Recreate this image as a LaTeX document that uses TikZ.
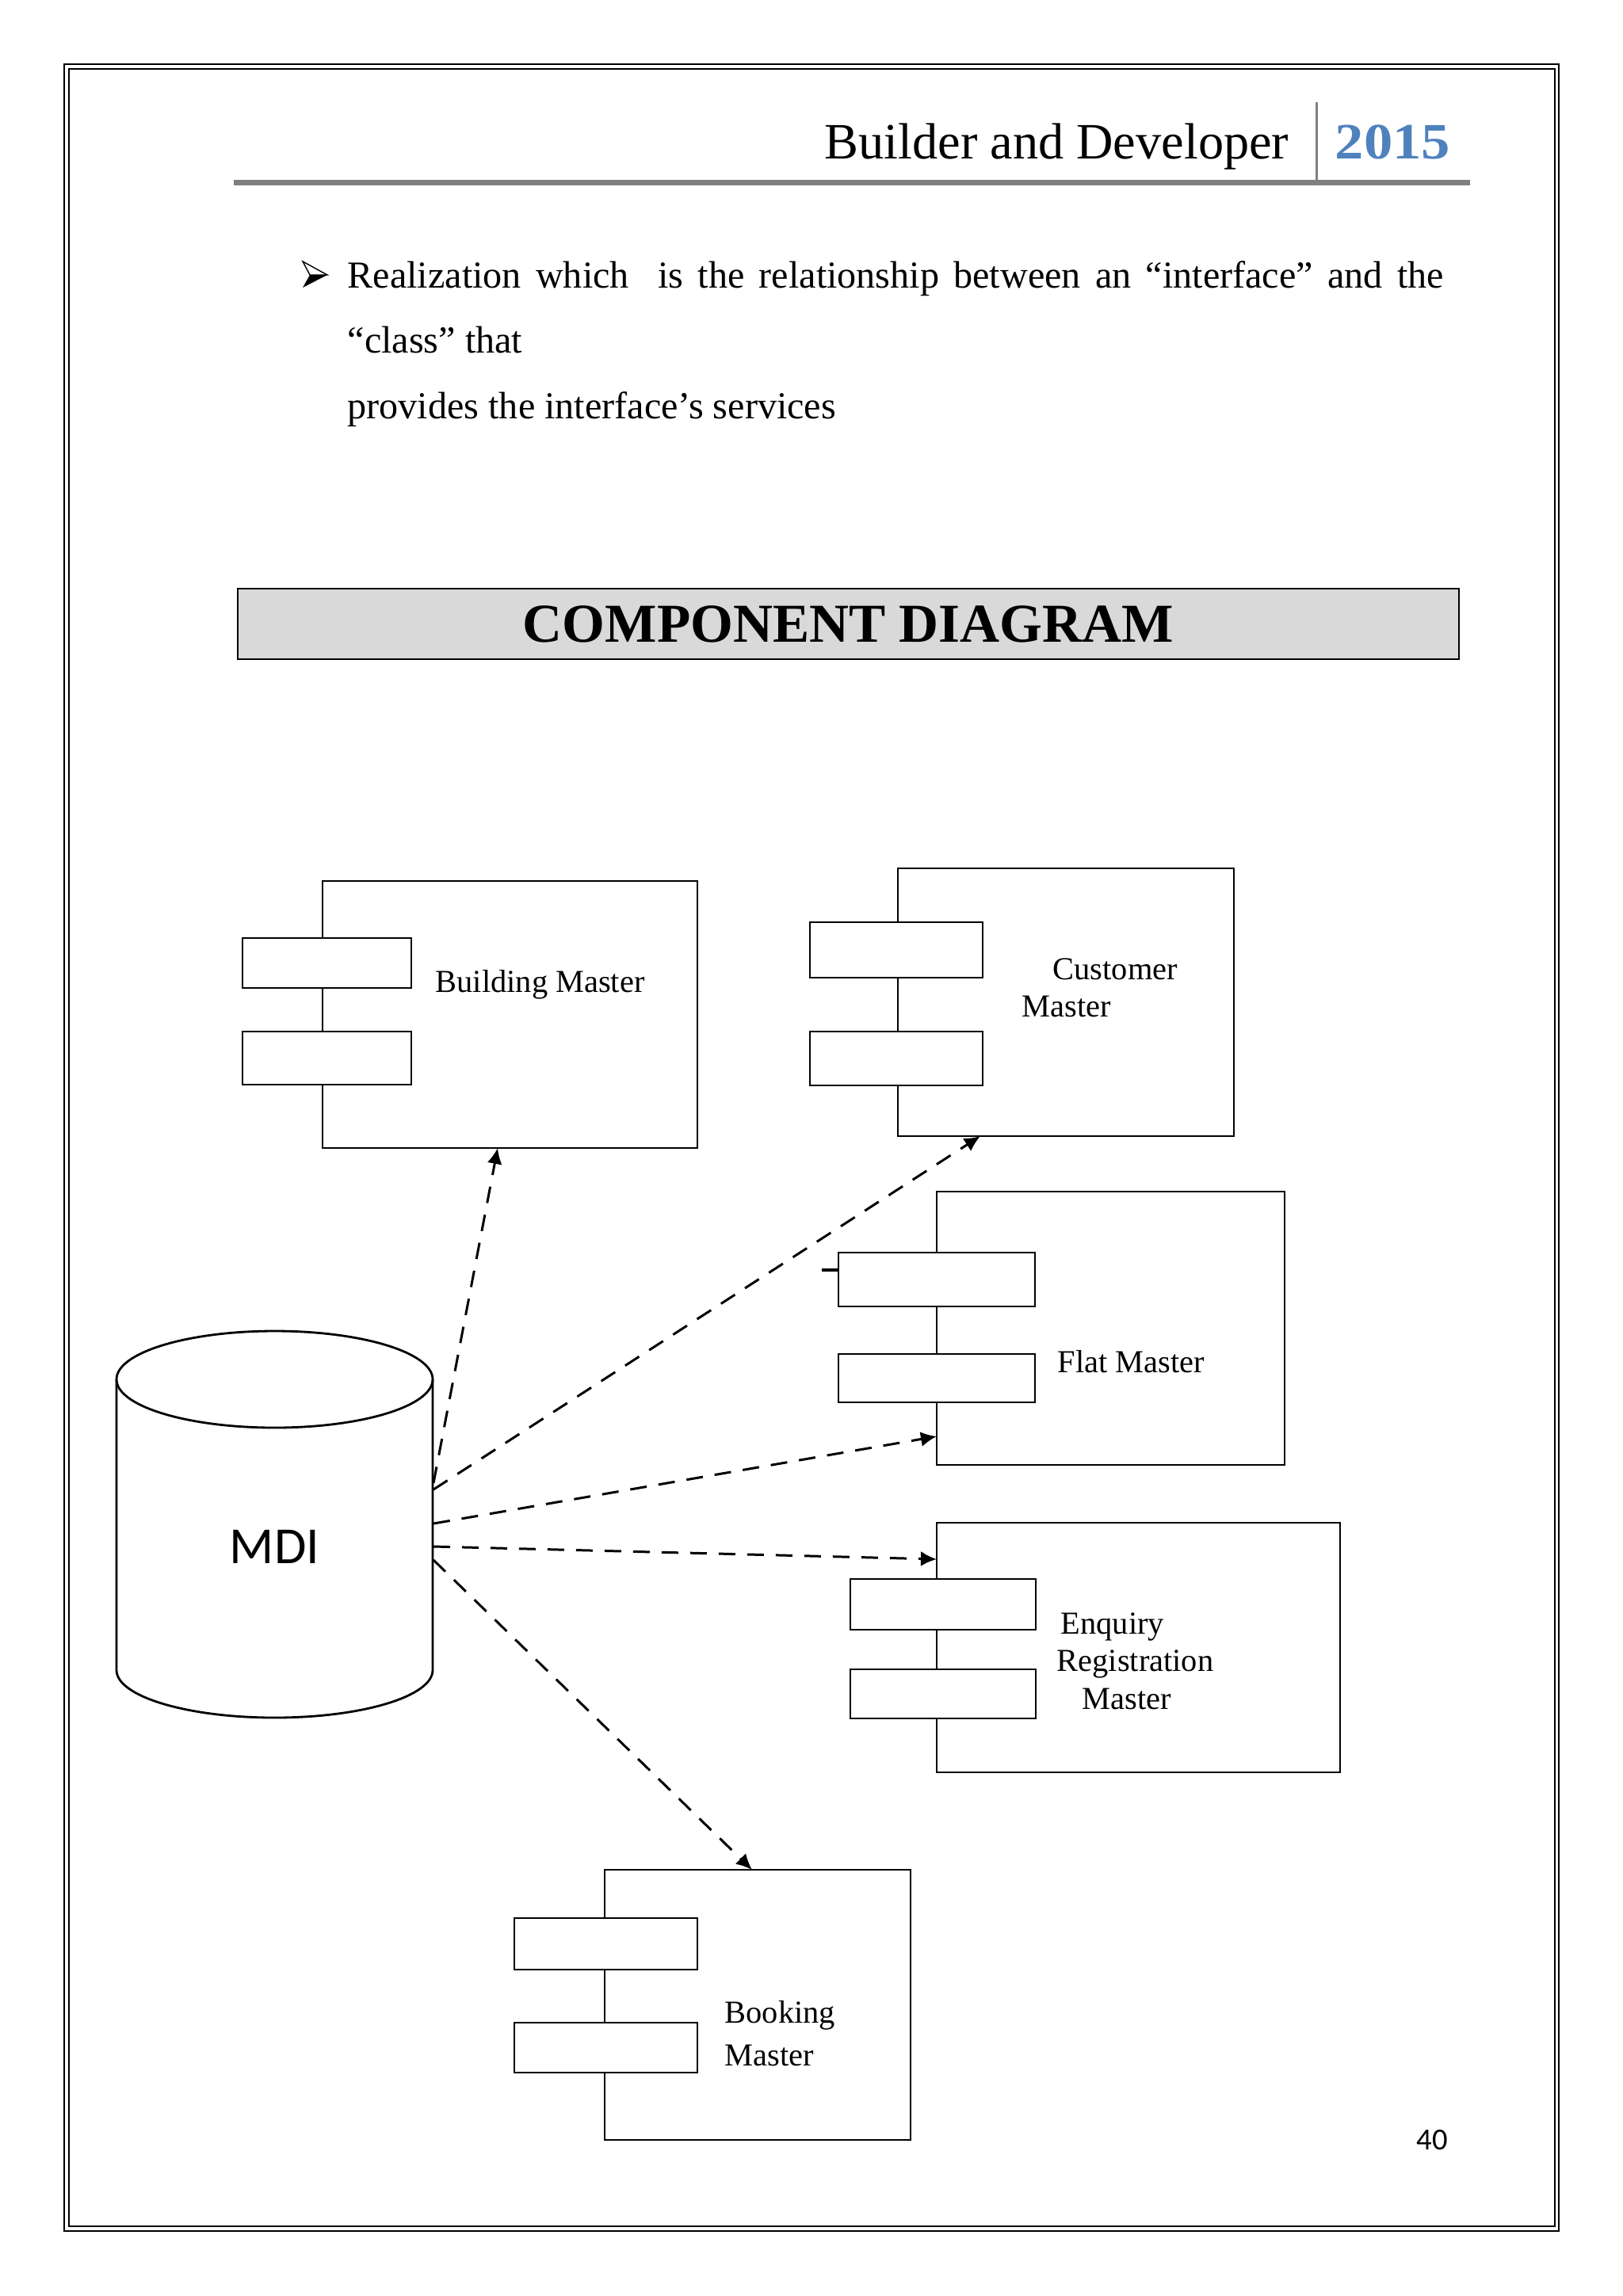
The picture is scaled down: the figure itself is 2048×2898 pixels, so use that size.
\documentclass[tikz,border=0pt]{standalone}
\usepackage{fontspec}
\setmainfont{Liberation Serif}
\newfontfamily\calibri{Carlito}
\usetikzlibrary{arrows.meta}
\definecolor{rulegray}{HTML}{808080}
\definecolor{titlegray}{HTML}{D9D9D9}
\definecolor{yearblue}{HTML}{4F81BD}
\begin{document}
\begin{tikzpicture}[x=0.1mm,y=-0.1mm,
  comp/.style={draw, line width=0.8pt, fill=white, inner sep=0, outer sep=0, anchor=north west},
  port/.style={draw, line width=0.8pt, fill=white, inner sep=0, outer sep=0, anchor=north west},
  lbl/.style={anchor=base west, inner sep=0, font=\fontsize{11.5}{13}\selectfont},
  body/.style={anchor=base west, inner sep=0, font=\fontsize{13.7}{16}\selectfont},
  dep/.style={draw, line width=0.85pt, dash pattern=on 2.1mm off 1.5mm, -{Latex[length=2mm,width=1.9mm]}}]
\useasboundingbox (0,0) rectangle (2048,2898);
% page border
\draw[line width=0.25mm] (81,81) rectangle (1967,2816);
\draw[line width=0.2mm] (87,87) rectangle (1962,2810);
% header
\node[anchor=base east, inner sep=0, font=\fontsize{18.3}{20}\selectfont] (hdr) at (1627,200) {Builder and Developer};
\node[anchor=base west, inner sep=0, font=\bfseries\fontsize{18.3}{20}\selectfont, text=yearblue] (yr) at (1684,200) {\scalebox{1.13}[1]{2015}};
\draw[rulegray, line width=0.7mm] (295,230.5) -- (1855,230.5);
\draw[rulegray, line width=0.3mm] (1661,129) -- (1661,230);
% bullet
\draw[line width=0.4pt, fill=white] (382,330) -- (413,347) -- (391,347) -- cycle;
\fill (391,347) -- (413,347) -- (382,363) -- cycle;
\node[body] (l1) at (438,363) {\makebox[138.3mm][s]{Realization which\ \ is the relationship between an “interface” and the}};
\node[body] (l2) at (438,445) {“class” that};
\node[body] (l3) at (438,528) {provides the interface’s services};
% title
\node[draw, fill=titlegray, line width=0.2mm, minimum width=154.1mm, minimum height=8.9mm, inner sep=0, font=\bfseries\fontsize{19.7}{24}\selectfont] (title) at (1070.5,787.5) {COMPONENT DIAGRAM};
% Building Master
\node[comp, minimum width=47.3mm, minimum height=33.7mm] (bm) at (407,1112) {};
\node[port, minimum width=21.3mm, minimum height=6.3mm] (bmp1) at (306,1184) {};
\node[port, minimum width=21.3mm, minimum height=6.7mm] (bmp2) at (306,1302) {};
\node[lbl] (bmt) at (549,1252) {Building Master};
% Customer Master
\node[comp, minimum width=42.4mm, minimum height=33.8mm] (cm) at (1133,1096) {};
\node[port, minimum width=21.8mm, minimum height=7.0mm] (cmp1) at (1022,1164) {};
\node[port, minimum width=21.8mm, minimum height=6.8mm] (cmp2) at (1022,1302) {};
\node[lbl] (cmt1) at (1328,1236) {Customer};
\node[lbl] (cmt2) at (1289,1283) {Master};
% Flat Master
\node[comp, minimum width=43.9mm, minimum height=34.5mm] (fm) at (1182,1504) {};
\node[port, minimum width=24.8mm, minimum height=6.8mm] (fmp1) at (1058,1581) {};
\node[port, minimum width=24.8mm, minimum height=6.1mm] (fmp2) at (1058,1709) {};
\coordinate (tk) at (1037,1603);
\draw[line width=1.3pt] (tk) -- (tk -| fmp1.west);
\node[lbl] (fmt) at (1334,1732) {Flat Master};
% Enquiry Registration Master
\node[comp, minimum width=50.9mm, minimum height=31.5mm] (em) at (1182,1922) {};
\node[port, minimum width=23.4mm, minimum height=6.4mm] (emp1) at (1073,1993) {};
\node[port, minimum width=23.4mm, minimum height=6.2mm] (emp2) at (1073,2107) {};
\node[lbl] (emt1) at (1338,2062) {Enquiry};
\node[lbl] (emt2) at (1333,2109) {Registration};
\node[lbl] (emt3) at (1365,2157) {Master};
% Booking Master
\node[comp, minimum width=38.6mm, minimum height=34.1mm] (bk) at (763,2360) {};
\node[port, minimum width=23.1mm, minimum height=6.5mm] (bkp1) at (649,2421) {};
\node[port, minimum width=23.1mm, minimum height=6.3mm] (bkp2) at (649,2553) {};
\node[lbl] (bkt1) at (914,2553) {Booking};
\node[lbl] (bkt2) at (914,2607) {Master};
% MDI cylinder
\draw[line width=0.8pt] (346.5,1741) ellipse [x radius=19.95mm, y radius=6.1mm];
\draw[line width=0.8pt] (147,1741) -- (147,2108) arc[start angle=180, end angle=360, x radius=19.95mm, y radius=6.0mm] -- (546,1741);
\node[font=\calibri\fontsize{18.7}{20}\selectfont, anchor=base, inner sep=0] (mdi) at (346.5,1973) {MDI};
% connector ends
\coordinate (s1) at (547,1872); \coordinate (t1) at (628,1449);
\coordinate (s2) at (547,1880); \coordinate (t2) at (1237,1434);
\coordinate (s3) at (547,1923); \coordinate (t3) at (1182,1813);
\coordinate (s4) at (547,1952); \coordinate (t4) at (1182,1968);
\coordinate (s5) at (547,1969); \coordinate (t5) at (949,2360);
\draw[dep] (s1) -- (t1);
\draw[dep] (s2) -- (t2);
\draw[dep] (s3) -- (t3);
\draw[dep] (s4) -- (t4);
\draw[dep] (s5) -- (t5);
% page number
\node[anchor=base, inner sep=0, font=\calibri\fontsize{11}{13}\selectfont] (pg) at (1807,2713) {40};
\end{tikzpicture}
\end{document}
